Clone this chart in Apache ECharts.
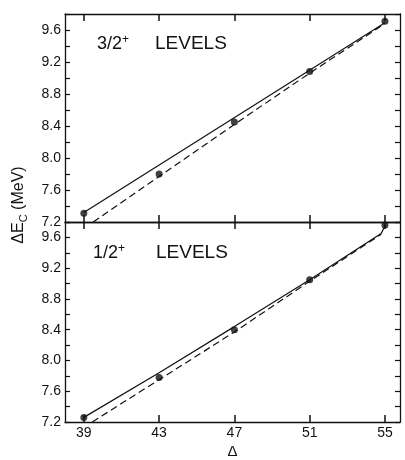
<!DOCTYPE html>
<html>
<head>
<meta charset="utf-8">
<script src="https://cdn.jsdelivr.net/npm/echarts@6/dist/echarts.min.js"></script>
<style>
  html, body { margin: 0; padding: 0; background: #fff; }
  #chart { width: 405px; height: 460px; }
</style>
</head>
<body>
<div id="chart"></div>
<script>
// Valores
const xTicks = [39, 43, 47, 51, 55];
const yLabels = [7.2, 7.6, 8.0, 8.4, 8.8, 9.2, 9.6];

// Panel superior: niveles 3/2+
const topPoints = [[39, 7.31], [43, 7.80], [47, 8.45], [51, 9.08], [55, 9.71]];
const topSolid = [[39, 7.32], [55, 9.69]];
const topDashed = [[39.5, 7.2], [43, 7.77], [47, 8.42], [51, 9.06], [55, 9.68]];

// Panel inferior: niveles 1/2+
const botPoints = [[39, 7.26], [43, 7.78], [47, 8.40], [51, 9.05], [55, 9.76]];
const botSolid = [[39, 7.26], [43, 7.84], [47, 8.44], [51, 9.05], [54.8, 9.65], [55, 9.75]];
const botDashed = [[39.45, 7.2], [43, 7.75], [47, 8.37], [51, 9.03], [54.8, 9.64]];

const ink = '#111';
const font = 'Liberation Sans';

function xAx(grid, pos, showLabels) {
    return {
        type: 'value', gridIndex: grid, position: pos, min: 38, max: 55.8,
        axisLine: { show: true, onZero: false, lineStyle: { color: ink, width: 1.3 } },
        axisTick: { show: true, inside: true, length: 7, customValues: xTicks, lineStyle: { color: ink, width: 1.5 } },
        axisLabel: { show: showLabels, customValues: xTicks, color: ink, fontSize: 14, fontFamily: font, margin: 4 },
        splitLine: { show: false }
    };
}

function yAx(grid, pos, showLabels) {
    return {
        type: 'value', gridIndex: grid, position: pos, min: 7.2, max: 9.8, interval: 0.2,
        axisLine: { show: true, onZero: false, lineStyle: { color: ink, width: 1.3 } },
        axisTick: { show: true, inside: true, length: 5, lineStyle: { color: ink, width: 1.2 } },
        axisLabel: { show: showLabels, customValues: yLabels, color: ink, fontSize: 14, fontFamily: font, margin: 4,
            formatter: v => v.toFixed(1) },
        splitLine: { show: false }
    };
}

function panel(idx, points, solid, dashed) {
    return [
        { type: 'line', xAxisIndex: idx * 2, yAxisIndex: idx * 2, data: solid, symbol: 'none',
          lineStyle: { color: ink, width: 1.2 } },
        { type: 'line', xAxisIndex: idx * 2, yAxisIndex: idx * 2, data: dashed, symbol: 'none',
          lineStyle: { color: ink, width: 1.2, type: [7, 4] } },
        { type: 'scatter', xAxisIndex: idx * 2, yAxisIndex: idx * 2, data: points, symbolSize: 7,
          itemStyle: { color: ink } }
    ];
}

const levelRich = {
    a: { fontSize: 18, fontWeight: 'normal', fontFamily: font, color: ink, lineHeight: 20 },
    s: { fontSize: 12, fontWeight: 'normal', fontFamily: font, color: ink, verticalAlign: 'top', lineHeight: 12 }
};

function levelTitle(text, left, top) {
    return { text: text, left: left, top: top, padding: 0,
             textStyle: { fontWeight: 'normal', rich: levelRich } };
}

const chart = echarts.init(document.getElementById('chart'));
const option = {
    animation: false,
    title: [
        levelTitle('{a|3/2}{s|+}', 97, 34),
        { text: 'LEVELS', left: 155, top: 34, padding: 0,
          textStyle: { fontSize: 19, fontWeight: 'normal', fontFamily: font, color: ink } },
        levelTitle('{a|1/2}{s|+}', 93, 243),
        { text: 'LEVELS', left: 156, top: 243, padding: 0,
          textStyle: { fontSize: 19, fontWeight: 'normal', fontFamily: font, color: ink } }
    ],
    grid: [
        { left: 65, right: 5, top: 14, height: 208 },
        { left: 65, right: 5, top: 222, height: 206 },
        // rejilla oculta solo para el titulo del eje Y
        { left: 65, right: 5, top: 14, height: 382 }
    ],
    xAxis: [
        xAx(0, 'bottom', false),
        xAx(0, 'top', false),
        Object.assign(xAx(1, 'bottom', true), {
            name: 'Δ', nameLocation: 'middle', nameGap: 22,
            nameTextStyle: { color: ink, fontSize: 15, fontFamily: font }
        }),
        xAx(1, 'top', false),
        { type: 'value', gridIndex: 2, show: false }
    ],
    yAxis: [
        yAx(0, 'left', true),
        yAx(0, 'right', false),
        yAx(1, 'left', true),
        yAx(1, 'right', false),
        { type: 'value', gridIndex: 2, position: 'left',
          axisLine: { show: false }, axisTick: { show: false }, axisLabel: { show: false }, splitLine: { show: false },
          name: '{m|ΔE}{s|C}{m| (MeV)}', nameLocation: 'middle', nameGap: 36,
          nameTextStyle: {
              rich: {
                  m: { fontSize: 16, fontFamily: font, color: ink, lineHeight: 20 },
                  s: { fontSize: 11, fontFamily: font, color: ink, verticalAlign: 'bottom', lineHeight: 11 }
              }
          } }
    ],
    series: [].concat(
        panel(0, topPoints, topSolid, topDashed),
        panel(1, botPoints, botSolid, botDashed)
    )
};
chart.setOption(option);
</script>
</body>
</html>
